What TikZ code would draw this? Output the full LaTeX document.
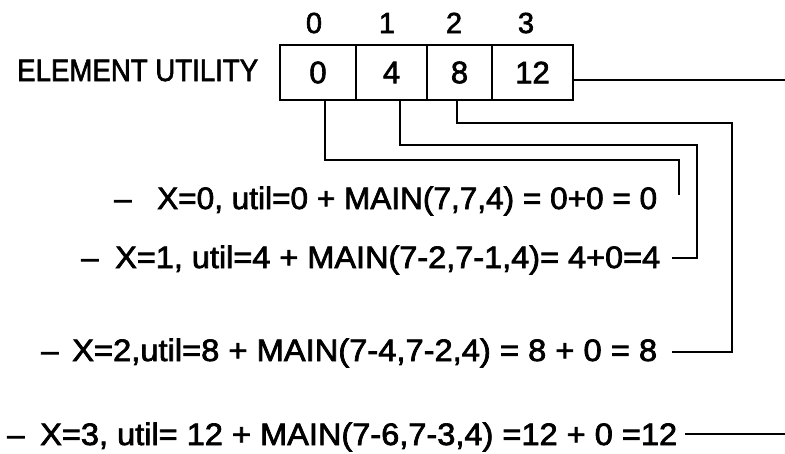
\documentclass[tikz,border=0pt]{standalone}
\usepackage{fontspec}
\usepackage{graphicx}
\setmainfont{Liberation Sans}[FakeBold=2.2]

% set a line of text at its natural height, squeezed or stretched to a given width (in pt)
\newlength\fitw
\newcommand\fitline[2]{\settowidth\fitw{#2}\scalebox{\fpeval{#1/\fitw}}[1]{#2}}

\tikzset{
  txt/.style={inner sep=0pt, anchor=base west, font=\fontsize{31}{36}\selectfont},
  idx/.style={inner sep=0pt, anchor=base, font=\fontsize{29}{34}\selectfont},
  cell/.style={draw, line width=2pt, minimum height=55pt, inner sep=0pt,
               font=\fontsize{31}{34}\selectfont},
  wire/.style={line width=2pt},
}

\begin{document}
\begin{tikzpicture}[x=1pt, y=-1pt, line join=miter]
\useasboundingbox (0,0) rectangle (785,453);

% the array and its indices
\node[txt] (title) at (17,81) {\fitline{241}{ELEMENT UTILITY}};
\node[cell, minimum width=76pt] (c0) at (318,72.5) {0};
\node[cell, minimum width=71pt] (c1) at (391.5,72.5) {4};
\node[cell, minimum width=65pt] (c2) at (459.5,72.5) {8};
\node[cell, minimum width=81pt] (c3) at (532.5,72.5) {12};

\node[idx] (i0) at (314,33) {0};
\node[idx] (i1) at (387,33) {1};
\node[idx] (i2) at (454,33) {2};
\node[idx] (i3) at (526,33) {3};

% one line per choice of X
\node[txt] (d1) at (114,209) {\textendash};
\node[txt] (l1) at (157,209) {\fitline{500}{X=0, util=0 + MAIN(7,7,4) = 0+0 = 0}};
\node[txt] (d2) at (81,268) {\textendash};
\node[txt] (l2) at (115,268) {\fitline{545}{X=1, util=4 + MAIN(7-2,7-1,4)= 4+0=4}};
\node[txt] (d3) at (41,361) {\textendash};
\node[txt] (l3) at (72,361) {\fitline{585}{X=2,util=8 + MAIN(7-4,7-2,4) = 8 + 0 = 8}};
\node[txt] (d4) at (7,445) {\textendash};
\node[txt] (l4) at (40,445) {\fitline{637}{X=3, util= 12 + MAIN(7-6,7-3,4) =12 + 0 =12}};

% bends and free ends of the wires
\coordinate (r0) at (679,160);
\coordinate (e0) at (679,195);
\coordinate (r1) at (697,145);
\coordinate (e1) at (672,258);
\coordinate (r2) at (732,123);
\coordinate (e2) at (672,352);
\coordinate (o3) at (785,80);
\coordinate (e3) at (685,434);
\coordinate (o4) at (785,434);

\draw[wire] ([xshift=7pt]c0.south) |- (r0) -- (e0);
\draw[wire] ([xshift=8.5pt]c1.south) |- (r1) |- (e1);
\draw[wire] ([xshift=-2.5pt]c2.south) |- (r2) |- (e2);
\draw[wire] (c3.east |- o3) -- (o3);
\draw[wire] (e3) -- (o4);
\end{tikzpicture}
\end{document}
